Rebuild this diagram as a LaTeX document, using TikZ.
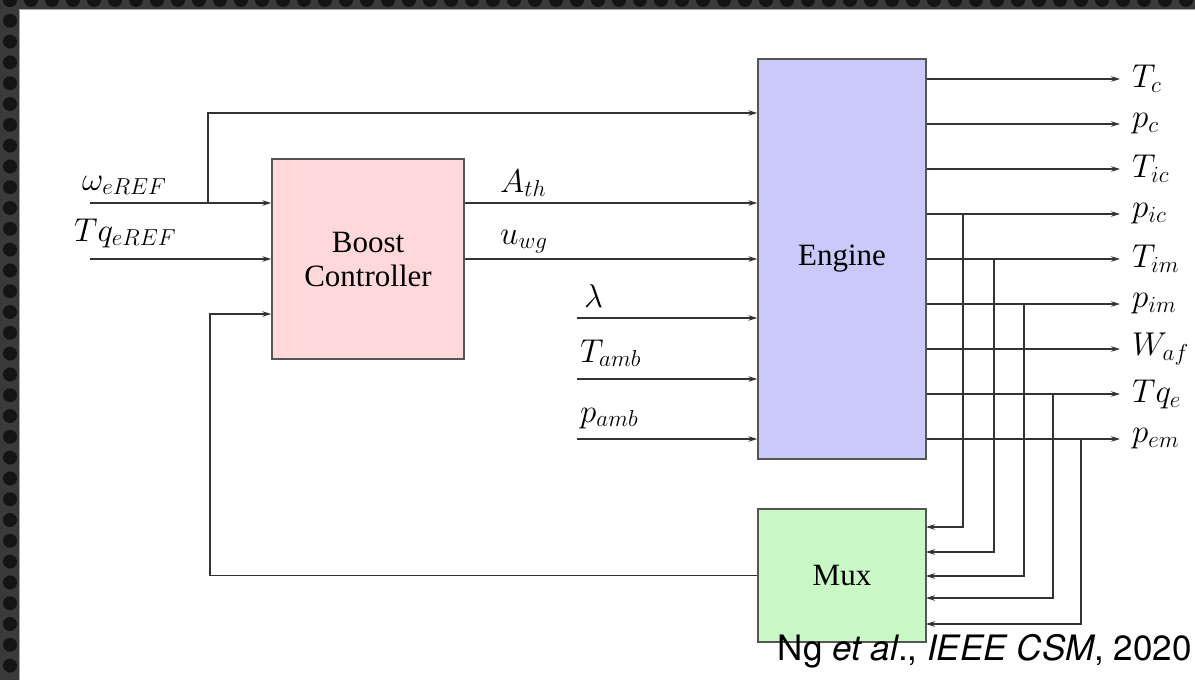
\RequirePackage{fix-cm}
\documentclass[tikz,border=0pt]{standalone}
\usepackage[no-math]{fontspec}
\newfontfamily\boxfont{Liberation Serif}
\newfontfamily\citefont{TeX Gyre Heros}
\usetikzlibrary{arrows.meta}
\definecolor{framedark}{HTML}{3A3A3A}
\definecolor{framedot}{HTML}{141414}
\definecolor{linecol}{HTML}{333333}
\definecolor{boxline}{HTML}{555555}
\definecolor{pinkfill}{HTML}{FFD9D9}
\definecolor{bluefill}{HTML}{C9C9FA}
\definecolor{greenfill}{HTML}{C9F8C6}
\tikzset{
  conn/.style={draw=linecol, line width=1.2pt, -{Stealth[length=9pt,width=5.5pt]}},
  blockbox/.style={draw=boxline, line width=1.4pt, inner sep=0pt, align=center,
     font=\boxfont\fontsize{31}{37}\selectfont},
  lbl/.style={inner sep=0pt, font=\fontsize{33}{38}\selectfont},
  olbl/.style={inner sep=0pt, anchor=west, xshift=12pt, font=\fontsize{33}{38}\selectfont},
}
\begin{document}
\begin{tikzpicture}[x=1pt,y=-1pt]
\useasboundingbox (0,0) rectangle (1195,680);
% slide frame
\fill[white] (0,0) rectangle (1195,680);
\fill[framedark] (0,0) rectangle (1195,9);
\fill[framedark] (0,0) rectangle (19,680);
\begin{scope}
\clip (0,0) rectangle (1195,9) (0,0) rectangle (19,680);
\foreach \k in {0,...,57} {\fill[framedot] (10+21*\k,0) circle (7);}
\foreach \k in {0,...,32} {\fill[framedot] (10,20.8*\k) circle (7);}
\end{scope}
\draw[gray!70, line width=1.5pt] (19.5,680) -- (19.5,9.5) -- (1195,9.5);

% blocks
\node[blockbox, fill=pinkfill, minimum width=192pt, minimum height=200pt] (bc) at (368,259) {Boost\\[-3pt]Controller};
\node[blockbox, fill=bluefill, minimum width=168pt, minimum height=400pt] (eng) at (842,259) {Engine};
\node[blockbox, fill=greenfill, minimum width=168pt, minimum height=133pt] (mux) at (842,575.5) {Mux};

% reference inputs
\coordinate (w0) at (90,203);
\coordinate (q0) at (90,259);
\coordinate (wb) at (208,203);
\draw[conn] (w0) -- (bc.west |- w0);
\draw[conn] (q0) -- (bc.west |- q0);
\draw[conn] (wb) |- (eng.west |- 0,113);
\node[lbl, anchor=base west] (lw) at (82,190) {$\omega_{eREF}$};
\node[lbl, anchor=base west] (lq) at (74,241) {$Tq_{eREF}$};

% controller outputs
\draw[conn] (bc.east |- 0,203) -- (eng.west |- 0,203);
\draw[conn] (bc.east |- 0,259) -- (eng.west |- 0,259);
\node[lbl, anchor=base west] (la) at (500,192) {$A_{th}$};
\node[lbl, anchor=base west] (lu) at (500,244) {$u_{wg}$};

% ambient inputs
\coordinate (l0) at (577,318);
\coordinate (t0) at (577,379);
\coordinate (p0) at (577,439);
\draw[conn] (l0) -- (eng.west |- l0);
\draw[conn] (t0) -- (eng.west |- t0);
\draw[conn] (p0) -- (eng.west |- p0);
\node[lbl, anchor=base west] (ll) at (584,307) {$\lambda$};
\node[lbl, anchor=base west] (lt) at (580,362) {$T_{amb}$};
\node[lbl, anchor=base west] (lp) at (580,422) {$p_{amb}$};

% engine outputs
\foreach \y/\lab/\n in {79/T_c/1,124/p_c/2,169/T_{ic}/3,214/p_{ic}/4,259/T_{im}/5,304/p_{im}/6,349/W_{af}/7,394/Tq_e/8,439/p_{em}/9} {
  \coordinate (o\n) at (1120,\y);
  \draw[conn] (eng.east |- o\n) -- (o\n);
  \node[olbl] (lo\n) at (o\n) {$\lab$};
}

% branches to mux
\foreach \x/\ys/\ye/\n in {963/214/527/1,994/259/552/2,1024/304/576/3,1053/394/598/4,1081/439/624/5} {
  \coordinate (b\n) at (\x,\ys);
  \coordinate (m\n) at (926,\ye);
  \draw[conn] (b\n) |- (m\n);
}

% feedback
\coordinate (fb) at (210,575.5);
\draw[conn] (mux.west) -- (fb) |- (bc.west |- 0,314);

% citation
\node[inner sep=0pt, anchor=base east, font=\citefont\fontsize{35}{41}\selectfont] (cite) at (1192,660) {Ng \textit{et al}., \textit{IEEE CSM}, 2020};
\end{tikzpicture}
\end{document}
